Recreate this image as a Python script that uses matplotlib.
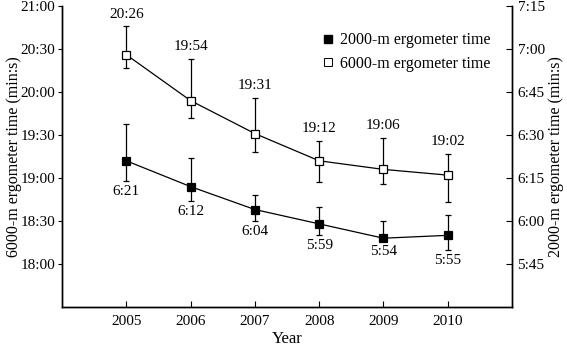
import matplotlib
matplotlib.use('Agg')
from matplotlib import pyplot as plt
from matplotlib.ticker import FuncFormatter, FixedLocator
from matplotlib.lines import Line2D

plt.rcParams['font.family'] = ['Liberation Serif', 'DejaVu Serif']

# Data (seconds)
years = [2005, 2006, 2007, 2008, 2009, 2010]
t6000 = [1226, 1194, 1171, 1152, 1146, 1142]
t6000_up = [1246, 1223, 1196, 1166, 1168, 1157]
t6000_lo = [1217, 1182, 1158, 1137, 1136, 1123]
labels6000 = ['20:26', '19:54', '19:31', '19:12', '19:06', '19:02']

t2000 = [381, 372, 364, 359, 354, 355]
t2000_up = [394, 382, 369, 365, 360, 362]
t2000_lo = [374, 367, 360, 355, 353, 350]
labels2000 = ['6:21', '6:12', '6:04', '5:59', '5:54', '5:55']


def mmss(v, pos=None):
    v = int(round(v))
    return '%d:%02d' % (v // 60, v % 60)


fig = plt.figure(figsize=(5.67, 3.48), dpi=100)
ax = fig.add_axes([62 / 567, 1 - 307 / 348, 450 / 567, 301 / 348])
ax2 = ax.twinx()

# 6000-m on left axis
err6 = [[m - lo for m, lo in zip(t6000, t6000_lo)],
        [up - m for m, up in zip(t6000, t6000_up)]]
ax.errorbar(years, t6000, yerr=err6, color='black', lw=0.9, elinewidth=0.9,
            capsize=2.5, capthick=0.9, marker='s', ms=5.5, mfc='white',
            mec='black', mew=0.9, zorder=3)
for x, up, lab in zip(years, t6000_up, labels6000):
    ax.annotate(lab, (x, up), xytext=(0, 4), textcoords='offset points',
                ha='center', va='bottom', fontsize=11)

# 2000-m on right axis
err2 = [[m - lo for m, lo in zip(t2000, t2000_lo)],
        [up - m for m, up in zip(t2000, t2000_up)]]
ax2.errorbar(years, t2000, yerr=err2, color='black', lw=0.9, elinewidth=0.9,
             capsize=2.5, capthick=0.9, marker='s', ms=5.5, mfc='black',
             mec='black', mew=0.9, zorder=3)
for x, lo, lab in zip(years, t2000_lo, labels2000):
    ax2.annotate(lab, (x, lo), xytext=(0, -3), textcoords='offset points',
                 ha='center', va='top', fontsize=11)

ax.set_xlim(2004, 2011)
ax.set_ylim(1050, 1260)
ax2.set_ylim(330, 435)

ax.yaxis.set_major_locator(FixedLocator(list(range(1080, 1261, 30))))
ax2.yaxis.set_major_locator(FixedLocator(list(range(345, 436, 15))))
ax.yaxis.set_major_formatter(FuncFormatter(mmss))
ax2.yaxis.set_major_formatter(FuncFormatter(mmss))
ax.set_xticks(years)

for a in (ax, ax2):
    a.spines['top'].set_visible(False)
    for s in a.spines.values():
        s.set_linewidth(1.0)

ax.tick_params(axis='y', direction='out', length=3, labelsize=11, pad=2)
ax.tick_params(axis='x', direction='in', length=4, labelsize=11, pad=6)
ax2.tick_params(axis='y', direction='in', length=4, labelsize=11, pad=4)

ax.set_xlabel('Year', fontsize=12, labelpad=2)
ax.set_ylabel('6000-m ergometer time (min:s)', fontsize=11.5)
ax2.set_ylabel('2000-m ergometer time (min:s)', fontsize=11.5)
ax.yaxis.set_label_coords(-0.088, 0.5)
ax2.yaxis.set_label_coords(1.08, 0.5)

handles = [Line2D([], [], ls='none', marker='s', ms=5.5, mfc='black', mec='black'),
           Line2D([], [], ls='none', marker='s', ms=5.5, mfc='white', mec='black', mew=0.7)]
ax.legend(handles, ['2000-m ergometer time', '6000-m ergometer time'],
          loc='upper right', bbox_to_anchor=(0.985, 0.96), frameon=False,
          fontsize=11.5, handlelength=0.8, handletextpad=0.4, labelspacing=0.45)

fig.savefig('out.png', dpi=100)
